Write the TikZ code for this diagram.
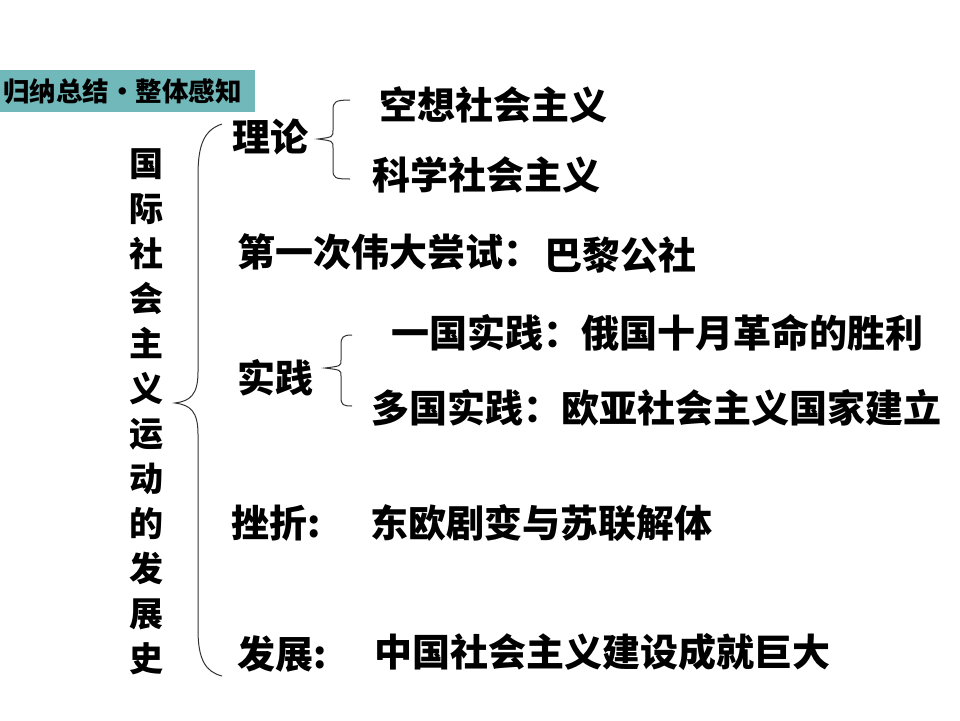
\documentclass[tikz,border=0pt]{standalone}
\usepackage{fontspec}
\newfontfamily\cjk{Noto Sans CJK SC}
\definecolor{titleteal}{RGB}{112,184,186}
\tikzset{
  txt/.style={inner sep=0pt, anchor=west, font=\cjk\bfseries\fontsize{38}{38}\selectfont},
  brace/.style={draw=black!80, line width=1pt},
}
\begin{document}
\begin{tikzpicture}[x=1pt,y=-1pt]
\useasboundingbox (0,0) rectangle (960,720);
% title box
\fill[titleteal] (0,70) rectangle (255,112);
\node[inner sep=0pt, anchor=west, font=\cjk\bfseries\fontsize{26.5}{26.5}\selectfont] (title) at (3,92) {归纳总结•整体感知};
% vertical title
\node[inner sep=0pt, align=center, font=\cjk\bfseries\fontsize{34}{45}\selectfont] (vt) at (146,412) {国\\际\\社\\会\\主\\义\\运\\动\\的\\发\\展\\史};
% big brace
\draw[brace] (222,124) .. controls (204,130) and (198,145) .. (198,175) -- (198,372)
  .. controls (198,395) and (190,401) .. (175,403)
  .. controls (190,405) and (198,411) .. (198,434) -- (198,630)
  .. controls (198,660) and (206,672) .. (222,676);
% texts
\node[txt] (lilun) at (232,137) {理论};
\node[txt] (kongxiang) at (379,105) {空想社会主义};
\node[txt] (kexue) at (372,175) {科学社会主义};
\draw[brace] (350,100) .. controls (335,100) and (333,102) .. (333,110) -- (333,130)
  .. controls (333,137) .. (318,139)
  .. controls (333,141) .. (333,148) -- (333,170)
  .. controls (333,178) and (335,179) .. (350,179);
\node[txt] (diyici) at (237,252) {第一次伟大尝试：};
\node[txt] (bali) at (544,255) {巴黎公社};
\node[txt] (yiguo) at (391,333) {一国实践：俄国十月革命的胜利};
\node[txt] (shijian) at (237,378) {实践};
\node[txt] (duoguo) at (371,408) {多国实践：欧亚社会主义国家建立};
\draw[brace] (352,335) .. controls (343,335) and (341,337) .. (341,345) -- (341,360)
  .. controls (341,366) .. (325,368)
  .. controls (341,370) .. (341,376) -- (341,397)
  .. controls (341,405) and (343,406) .. (352,406);
\node[txt] (cuozhe) at (231,523) {挫折:};
\node[txt] (dongou) at (370,523) {东欧剧变与苏联解体};
\node[txt] (fazhan) at (237,654) {发展:};
\node[txt] (zhongguo) at (374,652) {中国社会主义建设成就巨大};
\end{tikzpicture}
\end{document}
